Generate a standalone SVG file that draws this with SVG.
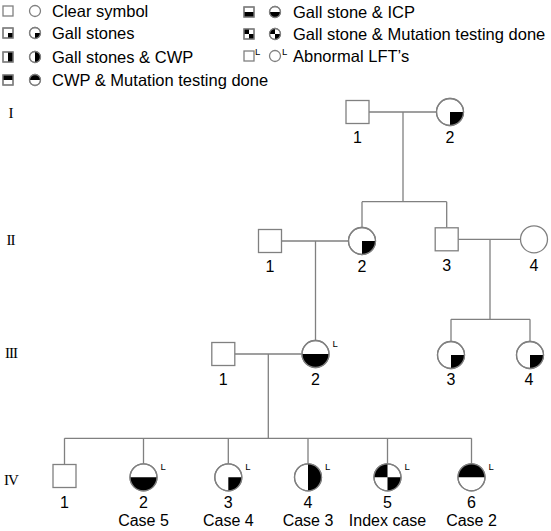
<svg xmlns="http://www.w3.org/2000/svg" width="551" height="531" viewBox="0 0 551 531">
<style>
.ln{fill:none;stroke:#808080;stroke-width:1.3}
.sh{fill:#fff;stroke:#808080;stroke-width:1.3}
.so{fill:none;stroke:#808080;stroke-width:1.3}
.fl{fill:#000;stroke:none}
.lg{font-family:"Liberation Sans",Arial,sans-serif;font-size:16.5px;fill:#000}
.lb{font-family:"Liberation Sans",Arial,sans-serif;font-size:16px;fill:#000;text-anchor:middle}
.sup{font-family:"Liberation Sans",Arial,sans-serif;font-size:9.5px;fill:#000}
.gen{font-family:"Liberation Serif","Times New Roman",serif;font-size:15px;fill:#000;text-anchor:middle;letter-spacing:-1px}
</style>
<defs>
<path id="c-lr" d="M0 0 L13.5 0 A13.5 13.5 0 0 1 0 13.5 Z"/>
<path id="c-bot" d="M-13.5 0 A13.5 13.5 0 0 0 13.5 0 Z"/>
<path id="c-top" d="M-13.5 0 A13.5 13.5 0 0 1 13.5 0 Z"/>
<path id="c-right" d="M0 -13.5 A13.5 13.5 0 0 1 0 13.5 Z"/>
<path id="c-chk" d="M0 0 L-13.5 0 A13.5 13.5 0 0 1 0 -13.5 Z M0 0 L13.5 0 A13.5 13.5 0 0 1 0 13.5 Z"/>
<path id="s-lc-lr" d="M0 0 L5.5 0 A5.5 5.5 0 0 1 0 5.5 Z"/>
<path id="s-lc-right" d="M0 -5.5 A5.5 5.5 0 0 1 0 5.5 Z"/>
<path id="s-lc-top" d="M-5.5 0 A5.5 5.5 0 0 1 5.5 0 Z"/>
<path id="s-lc-bot" d="M-5.5 0 A5.5 5.5 0 0 0 5.5 0 Z"/>
<path id="s-lc-chk" d="M0 0 L-5.5 0 A5.5 5.5 0 0 1 0 -5.5 Z M0 0 L5.5 0 A5.5 5.5 0 0 1 0 5.5 Z"/>
</defs>
<rect width="551" height="531" fill="#fff"/>

<!-- Legend -->
<g id="legend">
<g transform="translate(0,11)">
<rect class="sh" x="3" y="-5" width="10" height="10"/>
<circle class="sh" cx="35" cy="0" r="5.5"/>
<text class="lg" x="52" y="6">Clear symbol</text>
</g>
<g transform="translate(0,33)">
<rect class="sh" x="3" y="-5" width="10" height="10"/>
<rect class="fl" x="8" y="0" width="5" height="5"/>
<rect class="so" x="3" y="-5" width="10" height="10"/>
<circle class="sh" cx="35" cy="0" r="5.5"/>
<use href="#s-lc-lr" class="fl" x="35" y="0"/>
<circle class="so" cx="35" cy="0" r="5.5"/>
<text class="lg" x="52" y="6">Gall stones</text>
</g>
<g transform="translate(0,57)">
<rect class="sh" x="3" y="-5" width="10" height="10"/>
<rect class="fl" x="8" y="-5" width="5" height="10"/>
<rect class="so" x="3" y="-5" width="10" height="10"/>
<circle class="sh" cx="35" cy="0" r="5.5"/>
<use href="#s-lc-right" class="fl" x="35" y="0"/>
<circle class="so" cx="35" cy="0" r="5.5"/>
<text class="lg" x="52" y="6">Gall stones &amp; CWP</text>
</g>
<g transform="translate(0,80)">
<rect class="sh" x="3" y="-5" width="10" height="10"/>
<rect class="fl" x="3" y="-5" width="10" height="5"/>
<rect class="so" x="3" y="-5" width="10" height="10"/>
<circle class="sh" cx="35" cy="0" r="5.5"/>
<use href="#s-lc-top" class="fl" x="35" y="0"/>
<circle class="so" cx="35" cy="0" r="5.5"/>
<text class="lg" x="52" y="6">CWP &amp; Mutation testing done</text>
</g>
<g transform="translate(0,12)">
<rect class="sh" x="244" y="-5" width="10" height="10"/>
<rect class="fl" x="244" y="0" width="10" height="5"/>
<rect class="so" x="244" y="-5" width="10" height="10"/>
<circle class="sh" cx="275" cy="0" r="5.5"/>
<use href="#s-lc-bot" class="fl" x="275" y="0"/>
<circle class="so" cx="275" cy="0" r="5.5"/>
<text class="lg" x="293" y="6">Gall stone &amp; ICP</text>
</g>
<g transform="translate(0,34)">
<rect class="sh" x="244" y="-5" width="10" height="10"/>
<rect class="fl" x="244" y="-5" width="5" height="5"/>
<rect class="fl" x="249" y="0" width="5" height="5"/>
<rect class="so" x="244" y="-5" width="10" height="10"/>
<circle class="sh" cx="275" cy="0" r="5.5"/>
<use href="#s-lc-chk" class="fl" x="275" y="0"/>
<circle class="so" cx="275" cy="0" r="5.5"/>
<text class="lg" x="293" y="6">Gall stone &amp; Mutation testing done</text>
</g>
<g transform="translate(0,56)">
<rect class="sh" x="244" y="-5" width="10" height="10"/>
<text class="sup" x="255" y="-1">L</text>
<circle class="sh" cx="275" cy="0" r="5.5"/>
<text class="sup" x="282" y="-1">L</text>
<text class="lg" x="293" y="6">Abnormal LFT’s</text>
</g>
</g>

<!-- Generation labels -->
<g id="generations">
<text class="gen" x="10.5" y="118">I</text>
<text class="gen" x="10.5" y="245">II</text>
<text class="gen" x="11" y="358">III</text>
<text class="gen" x="11" y="485">IV</text>
</g>

<!-- Connectors -->
<g id="connectors" class="ln">
<path d="M369 112 H436.5 M403 112 V201.7"/>
<path d="M362 201.7 H446.7 M362 201.7 V227.5 M446.7 201.7 V227.5"/>
<path d="M282 241 H348.5 M315.5 241 V340.5"/>
<path d="M458.2 239.3 H520.5 M490 239.3 V319.3"/>
<path d="M451 319.3 H530 M451 319.3 V341.5 M530 319.3 V341.5"/>
<path d="M234.8 354 H301.5 M268.3 354 V438.3"/>
<path d="M64.5 438.3 H471.5 M64.5 438.3 V464.5 M143.5 438.3 V463.8 M228.3 438.3 V463.8 M308 438.3 V463.8 M387.5 438.3 V463.8 M471.5 438.3 V463.8"/>
</g>

<!-- Generation I -->
<g id="I-1" transform="translate(357.5,112)">
<rect class="sh" x="-11.5" y="-11.5" width="23" height="23"/>
<text class="lb" x="0" y="31">1</text>
</g>
<g id="I-2" transform="translate(450,112)">
<circle class="sh" r="13.5"/>
<use href="#c-lr" class="fl"/>
<circle class="so" r="13.5"/>
<text class="lb" x="0" y="31">2</text>
</g>

<!-- Generation II -->
<g id="II-1" transform="translate(270,241)">
<rect class="sh" x="-11.5" y="-11.5" width="23" height="23"/>
<text class="lb" x="0" y="31">1</text>
</g>
<g id="II-2" transform="translate(362,241)">
<circle class="sh" r="13.5"/>
<use href="#c-lr" class="fl"/>
<circle class="so" r="13.5"/>
<text class="lb" x="0" y="31">2</text>
</g>
<g id="II-3" transform="translate(446.7,239.3)">
<rect class="sh" x="-11.5" y="-11.5" width="23" height="23"/>
<text class="lb" x="0" y="32">3</text>
</g>
<g id="II-4" transform="translate(534,239.3)">
<circle class="sh" r="13.5"/>
<text class="lb" x="0" y="32">4</text>
</g>

<!-- Generation III -->
<g id="III-1" transform="translate(223.3,354)">
<rect class="sh" x="-11.5" y="-11.5" width="23" height="23"/>
<text class="lb" x="0" y="31">1</text>
</g>
<g id="III-2" transform="translate(315.5,354)">
<circle class="sh" r="13.5"/>
<use href="#c-bot" class="fl"/>
<circle class="so" r="13.5"/>
<text class="sup" x="17" y="-7">L</text>
<text class="lb" x="0" y="31">2</text>
</g>
<g id="III-3" transform="translate(451,355)">
<circle class="sh" r="13.5"/>
<use href="#c-lr" class="fl"/>
<circle class="so" r="13.5"/>
<text class="lb" x="0" y="30">3</text>
</g>
<g id="III-4" transform="translate(530,355)">
<circle class="sh" r="13.5"/>
<use href="#c-lr" class="fl"/>
<circle class="so" r="13.5"/>
<text class="lb" x="-1" y="30">4</text>
</g>

<!-- Generation IV -->
<g id="IV-1" transform="translate(64.5,476)">
<rect class="sh" x="-11.5" y="-11.5" width="23" height="23"/>
<text class="lb" x="0" y="32">1</text>
</g>
<g id="IV-2" transform="translate(143.5,477.3)">
<circle class="sh" r="13.5"/>
<use href="#c-bot" class="fl"/>
<circle class="so" r="13.5"/>
<text class="sup" x="17" y="-7">L</text>
<text class="lb" x="0" y="31">2</text>
<text class="lb" x="0" y="48.5">Case 5</text>
</g>
<g id="IV-3" transform="translate(228.3,477.3)">
<circle class="sh" r="13.5"/>
<use href="#c-lr" class="fl"/>
<circle class="so" r="13.5"/>
<text class="sup" x="17" y="-7">L</text>
<text class="lb" x="0" y="31">3</text>
<text class="lb" x="0" y="48.5">Case 4</text>
</g>
<g id="IV-4" transform="translate(308,477.3)">
<circle class="sh" r="13.5"/>
<use href="#c-right" class="fl"/>
<circle class="so" r="13.5"/>
<text class="sup" x="17" y="-7">L</text>
<text class="lb" x="0" y="31">4</text>
<text class="lb" x="0" y="48.5">Case 3</text>
</g>
<g id="IV-5" transform="translate(387.5,477.3)">
<circle class="sh" r="13.5"/>
<use href="#c-chk" class="fl"/>
<circle class="so" r="13.5"/>
<text class="sup" x="17" y="-7">L</text>
<text class="lb" x="0" y="31">5</text>
<text class="lb" x="0" y="48.5">Index case</text>
</g>
<g id="IV-6" transform="translate(471.5,477.3)">
<circle class="sh" r="13.5"/>
<use href="#c-top" class="fl"/>
<circle class="so" r="13.5"/>
<text class="sup" x="17" y="-7">L</text>
<text class="lb" x="0" y="31">6</text>
<text class="lb" x="0" y="48.5">Case 2</text>
</g>
</svg>
